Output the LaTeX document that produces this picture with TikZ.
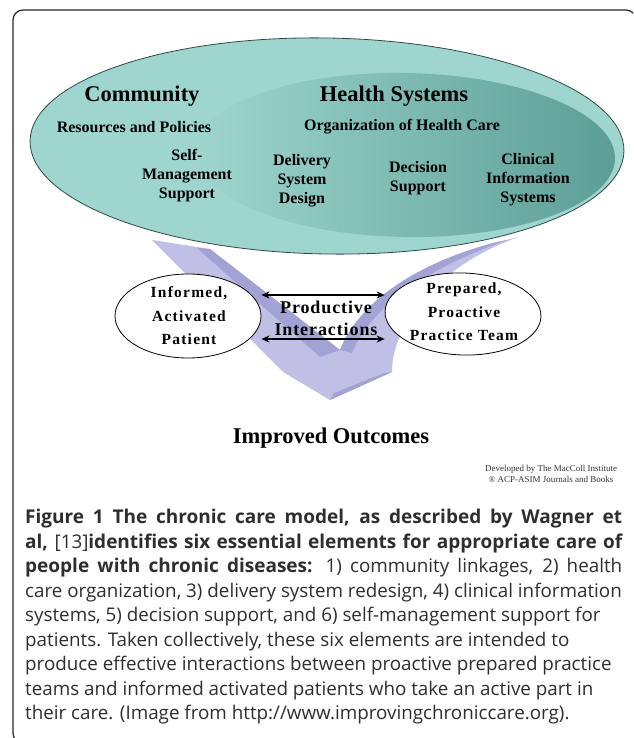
\documentclass[tikz,border=0pt]{standalone}
\usepackage{fontspec}
\setmainfont{Liberation Serif}
\newfontfamily\capfont{Open Sans}
\newfontfamily\spacedserif[LetterSpace=8]{Liberation Serif}
\newfontfamily\prodserif[LetterSpace=5]{Liberation Serif}
\usetikzlibrary{shapes.geometric,arrows.meta}
\definecolor{tealA}{HTML}{9ED6CF}
\definecolor{tealB}{HTML}{5C9E96}
\definecolor{tealEdge}{HTML}{2E4A48}
\definecolor{lavA}{HTML}{C0C0E6}
\definecolor{lavB}{HTML}{A2A2D4}
\definecolor{capgray}{HTML}{2E2E2E}
\newcommand\capb[1]{{\fontsize{19}{24.5}\selectfont\bfseries #1}}
\newcommand\capline[1]{\makebox[597pt][s]{#1}}
\begin{document}
\begin{tikzpicture}[x=1pt,y=-1pt,
  hdr/.style={font=\fontsize{22.5}{27}\selectfont\bfseries, text=black, inner sep=0pt},
  sub/.style={font=\fontsize{16}{19}\selectfont\bfseries, text=black, align=center, inner sep=0pt},
  pellipse/.style={ellipse, draw=black, line width=0.8pt, fill=white, inner sep=0pt},
  ptext/.style={font=\fontsize{15.5}{23.5}\selectfont\spacedserif\bfseries, align=center, inner sep=0pt},
  prodtext/.style={font=\fontsize{18}{22}\selectfont\prodserif\bfseries, align=center, inner sep=0pt},
  biarrow/.style={line width=1.3pt, {Stealth[length=8pt,width=7pt]}-{Stealth[length=8pt,width=7pt]}},
  frame/.style={line width=1.2pt, draw=black!85, rounded corners=10pt}
]
\useasboundingbox (0,0) rectangle (633,738);
\begin{scope}
  \clip (0,0) rectangle (633,738);
  \draw[frame] (13,10) rectangle (636,743);
\end{scope}

% big ellipse
\node[ellipse, fill=tealA, minimum width=594pt, minimum height=216pt, inner sep=0pt, rotate=-1] (model) at (327,146) {};
\shade[left color=tealA, right color=tealB, rotate around={-1:(405,155)}] (405,155) ellipse [x radius=210pt, y radius=82pt];
\node[ellipse, draw=tealEdge, line width=0.8pt, minimum width=594pt, minimum height=216pt, inner sep=0pt, rotate=-1] (modeledge) at (327,146) {};

% the chevron arrow
\fill[lavA] (152,240) -- (283,372) -- (330,400) -- (392,372)
  .. controls (392,320) and (445,262) .. (519,237) -- (497,242)
  .. controls (420,262) and (360,300) .. (340,350) -- (210,249) -- cycle;
\fill[lavB] (197,248) -- (210,249) -- (340,350) -- (320,357) -- cycle;
\fill[lavB] (497,242) .. controls (420,262) and (360,300) .. (340,350)
  -- (352,353) .. controls (372,305) and (428,268) .. (507,240) -- cycle;
\fill[lavB] (392,372) -- (330,400) -- (334,393) -- (384,373) -- cycle;

% texts in the big ellipse
\node[hdr] (community) at (142,96) {Community};
\node[sub] (resources) at (134,127) {Resources and Policies};
\node[sub] (selfmgmt) at (187,176) {Self-\\Management\\Support};
\node[hdr] (health) at (394,96) {Health Systems};
\node[sub] (organization) at (402,127) {Organization of Health Care};
\node[sub] (delivery) at (302,181) {Delivery\\System\\Design};
\node[sub] (decision) at (418,178) {Decision\\Support};
\node[sub] (clinical) at (528,180) {Clinical\\Information\\Systems};

% patient and team
\node[pellipse, minimum width=146pt, minimum height=84pt] (pat) at (188,316) {};
\node[ptext] (pattext) at (189,316) {Informed,\\Activated\\Patient};
\node[pellipse, minimum width=156pt, minimum height=82pt, rotate=-2] (team) at (463,314) {};
\node[ptext] (teamtext) at (464,312) {Prepared,\\Proactive\\Practice Team};

\node[prodtext] (prod) at (326,318) {Productive\\Interactions};
\draw[biarrow] ([yshift=21pt]pat.east) -- ([yshift=21pt]pat.east -| team.west);
\draw[biarrow] ([yshift=-23pt]pat.east) -- ([yshift=-23pt]pat.east -| team.west);

\node[hdr] (outcomes) at (331,438) {Improved Outcomes};
\node[font=\fontsize{9}{11}\selectfont, align=center, inner sep=0pt, text=black!80] (credit) at (551,474)
  {Developed by The MacColl Institute\\\textregistered\ ACP-ASIM Journals and Books};

% caption
\node[anchor=north west, inner sep=0pt, align=left, text=capgray,
      font=\fontsize{18.8}{24.5}\selectfont\capfont] (caption) at (25,509)
{\capline{\capb{Figure 1 The chronic care model, as described by Wagner et}}\\
\capline{\capb{al,} [13]\capb{identifies six essential elements for appropriate care of}}\\
\capline{\capb{people with chronic diseases:} 1) community linkages, 2) health}\\
care organization, 3) delivery system redesign, 4) clinical information\\
systems, 5) decision support, and 6) self-management support for\\
patients. Taken collectively, these six elements are intended to\\
produce effective interactions between proactive prepared practice\\
teams and informed activated patients who take an active part in\\
their care. (Image from http://www.improvingchroniccare.org).};
\end{tikzpicture}
\end{document}
